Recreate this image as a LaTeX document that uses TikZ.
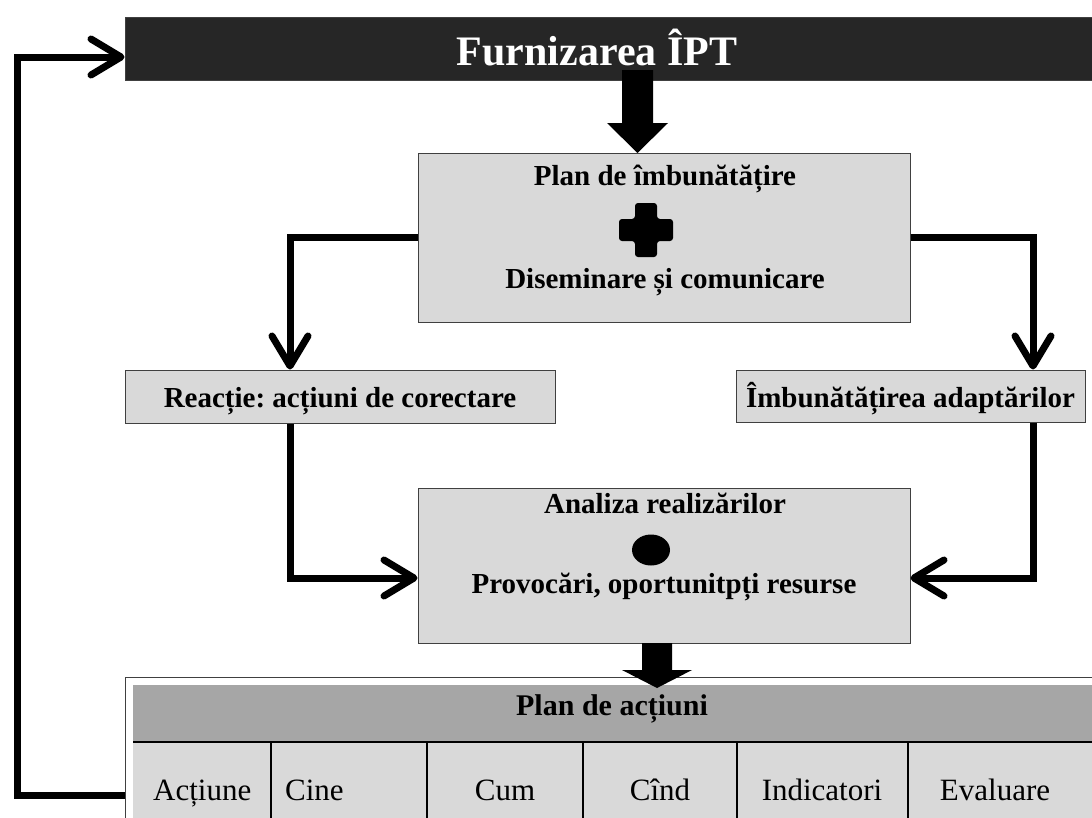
\documentclass[tikz,border=0pt]{standalone}
\usepackage{fontspec}
\setmainfont{Liberation Serif}
\usetikzlibrary{arrows.meta,positioning}

\definecolor{bardark}{RGB}{38,38,38}
\definecolor{boxgray}{RGB}{217,217,217}
\definecolor{headgray}{RGB}{166,166,166}
\definecolor{edgegray}{RGB}{64,64,64}
\frenchspacing

\begin{document}
\begin{tikzpicture}[%
      x=1pt, y=-1pt,
      box/.style={draw=edgegray, fill=boxgray, line width=1pt, inner sep=0pt},
      boldtext/.style={font=\fontsize{29}{34}\selectfont\bfseries, inner sep=0pt, anchor=base},
      celltext/.style={font=\fontsize{31}{36}\selectfont, inner sep=0pt, anchor=base},
      flow/.style={line width=7pt, -{Straight Barb[length=30pt,width=36pt,round]}},
      ]
      \useasboundingbox (0,0) rectangle (1092,817);
      \clip (0,0) rectangle (1092,817);

      % top bar
      \node [fill=bardark, draw=edgegray, line width=1pt, minimum width=967pt,
             minimum height=63pt, inner sep=0pt] (ipt) at (608.5,48.5) {};
      \fill [color=black] (622,70) -- (653,70) -- (653,123) -- (668,123)
            -- (637.5,153) -- (607,123) -- (622,123) -- cycle;
      \node [white, font=\fontsize{42}{48}\selectfont\bfseries, inner sep=0pt,
             anchor=base] (iptlabel) at (597,65) {Furnizarea ÎPT};

      % plan box
      \node [box, minimum width=492pt, minimum height=169pt] (plan) at (664,237.5) {};
      \node [boldtext] (plantitle) at (665,185) {Plan de îmbunătățire};
      \fill [color=black, rounded corners=3pt] (635,203) -- (657,203) -- (657,219)
            -- (673,219) -- (673,241) -- (657,241) -- (657,257) -- (635,257)
            -- (635,241) -- (619,241) -- (619,219) -- (635,219) -- cycle;
      \node [boldtext] (plandissem) at (665,288) {Diseminare și comunicare};

      % side boxes
      \node [box, minimum width=430pt, minimum height=53pt] (react) at (340,396.5) {};
      \node [boldtext] (reacttext) at (340,407) {Reacție: acțiuni de corectare};
      \node [box, minimum width=349pt, minimum height=52pt] (adapt) at (910.5,396) {};
      \node [boldtext] (adapttext) at (910.5,407) {Îmbunătățirea adaptărilor};

      % analysis box
      \node [box, minimum width=492pt, minimum height=155pt] (analiza) at (664,565.5) {};
      \node [boldtext] (analizatitle) at (665,513) {Analiza realizărilor};
      \fill [color=black] (651,550) ellipse (19pt and 15.5pt);
      \node [boldtext] (analizachal) at (664,593) {Provocări, oportunitpți resurse};

      \coordinate (lx) at (290,0);
      \coordinate (rx) at (1033,0);
      \coordinate (ly) at (0,578);
      \coordinate (bx) at (17,0);

      \draw [flow] (plan.west) -| (react.north -| lx);
      \draw [flow] (plan.east) -| (adapt.north -| rx);
      \draw [flow] (react.south -| lx) |- (analiza.west |- ly);
      \draw [flow] (adapt.south -| rx) |- (analiza.east |- ly);

      % action plan table
      \node [draw=edgegray, line width=1pt, fill=white, minimum width=1000pt,
             minimum height=200pt, anchor=north west, inner sep=0pt] (frame) at (125,677) {};
      \fill [color=headgray] (133,685) rectangle (1100,742);
      \fill [color=boxgray] (133,742) rectangle (1100,830);
      \draw [color=black, line width=1.5pt] (133,742) -- (1100,742);
      \foreach \cx in {271,427,583,737,908}
        \draw [color=black, line width=1.5pt] (\cx,742) -- (\cx,830);
      \fill [color=black] (642,643) -- (672,643) -- (672,670) -- (692,670)
            -- (657,688) -- (622,670) -- (642,670) -- cycle;
      \node [boldtext, font=\fontsize{30}{35}\selectfont\bfseries] (tablehead) at (612,715) {Plan de acțiuni};

      \node [celltext, anchor=base west] (colact) at (153,800) {Acțiune};
      \node [celltext, anchor=base west] (colwho) at (285,800) {Cine};
      \node [celltext] (colhow) at (505,800) {Cum};
      \node [celltext] (colwhen) at (660,800) {Cînd};
      \node [celltext] (colind) at (822,800) {Indicatori};
      \node [celltext] (coleval) at (995,800) {Evaluare};

      % feedback loop
      \draw [flow] (frame.west |- 0,795) -| (bx |- 0,57) -- (ipt.west |- 0,57);
      \end{tikzpicture}
\end{document}
